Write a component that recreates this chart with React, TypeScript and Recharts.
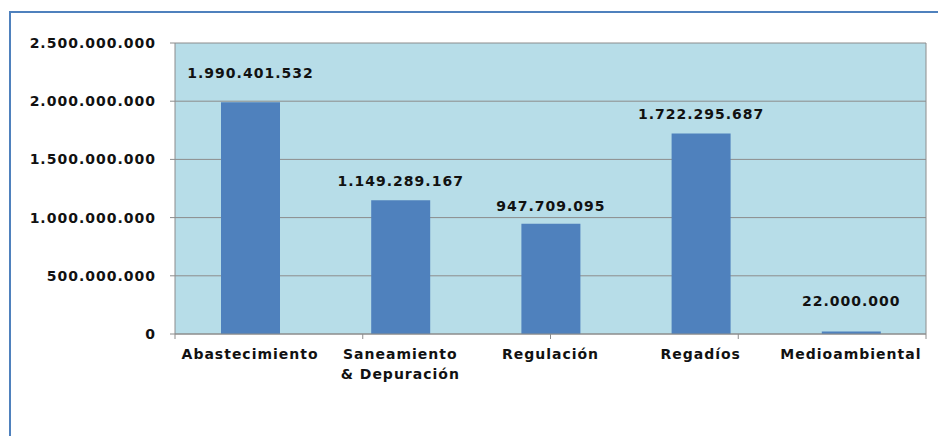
import { Bar, BarChart, CartesianGrid, LabelList, ReferenceLine, XAxis, YAxis } from "recharts";

const categories = ["Abastecimiento", "Saneamiento & Depuración", "Regulación", "Regadíos", "Medioambiental"];
const inversion = [1990401532, 1149289167, 947709095, 1722295687, 22000000];
const yTicks = [0, 500000000, 1000000000, 1500000000, 2000000000, 2500000000];
const boundaryTicks = [0, 1, 2, 3, 4, 5];

const data = categories.map((name, i) => ({ name, value: inversion[i] }));

// how far each value label sits above its bar (the original labels were nudged by hand)
const labelGap: Record<string, number> = {
  Abastecimiento: 24,
  "Saneamiento & Depuración": 14,
  Regulación: 13,
  Regadíos: 15,
  Medioambiental: 25,
};

const FONT = "'DejaVu Sans', Verdana, sans-serif";
const GRID = "#8c8c8c";
const BAR = "#4f81bd";
const TEXT = { fontFamily: FONT, fontWeight: "bold", fontSize: 14, fill: "#111", letterSpacing: 1 };

const fmt = (v: number) => String(Math.round(v)).replace(/\B(?=(\d{3})+(?!\d))/g, ".");

function CategoryTick({ x, y, payload }: any) {
  const lines = String(payload.value).split(" & ");
  return (
    <text x={x} y={y} textAnchor="middle" {...TEXT}>
      {lines.map((l, i) => (
        <tspan key={i} x={x} dy={i === 0 ? 16 : 20}>
          {i > 0 ? "& " + l : l}
        </tspan>
      ))}
    </text>
  );
}

function ValueLabel({ x, y, width, value, index }: any) {
  const gap = labelGap[categories[index]] ?? 15;
  return (
    <text x={x + width / 2} y={y - gap} textAnchor="middle" {...TEXT}>
      {fmt(value)}
    </text>
  );
}

export default function App() {
  return (
    <div style={{ position: "absolute", left: 0, top: 0, width: 938, height: 436, overflow: "hidden", background: "#fff" }}>
      <div
        style={{
          position: "absolute",
          left: 9,
          top: 11,
          width: 960,
          height: 500,
          border: "2px solid #4f81bd",
        }}
      />
      <div style={{ position: "absolute", left: 0, top: 0 }}>
        <BarChart width={938} height={436} data={data} margin={{ top: 43, right: 12, bottom: 42, left: 0 }}>
          <CartesianGrid xAxisId="b-cat" fill="#b7dde8" stroke={GRID} vertical={false} />
          <XAxis
            xAxisId="b-cat"
            dataKey="name"
            height={59}
            axisLine={false}
            tickLine={false}
            interval={0}
            tick={<CategoryTick />}
          />
          {/* unlabeled axis that draws Excel-style ticks between the categories */}
          <XAxis
            xAxisId="a-edges"
            type="number"
            domain={[0, 5]}
            ticks={boundaryTicks}
            tickFormatter={() => ""}
            height={1}
            stroke={GRID}
            tickSize={5}
            interval={0}
            allowDataOverflow
          />
          <YAxis
            width={175}
            domain={[0, 2500000000]}
            ticks={yTicks}
            tickFormatter={fmt}
            stroke={GRID}
            tickSize={5}
            tickMargin={14}
            tick={TEXT}
          />
          <ReferenceLine xAxisId="b-cat" x="Medioambiental" position="end" stroke={GRID} />
          <Bar xAxisId="b-cat" dataKey="value" fill={BAR} barSize={59} isAnimationActive={false}>
            <LabelList dataKey="value" content={<ValueLabel />} />
          </Bar>
        </BarChart>
      </div>
    </div>
  );
}
